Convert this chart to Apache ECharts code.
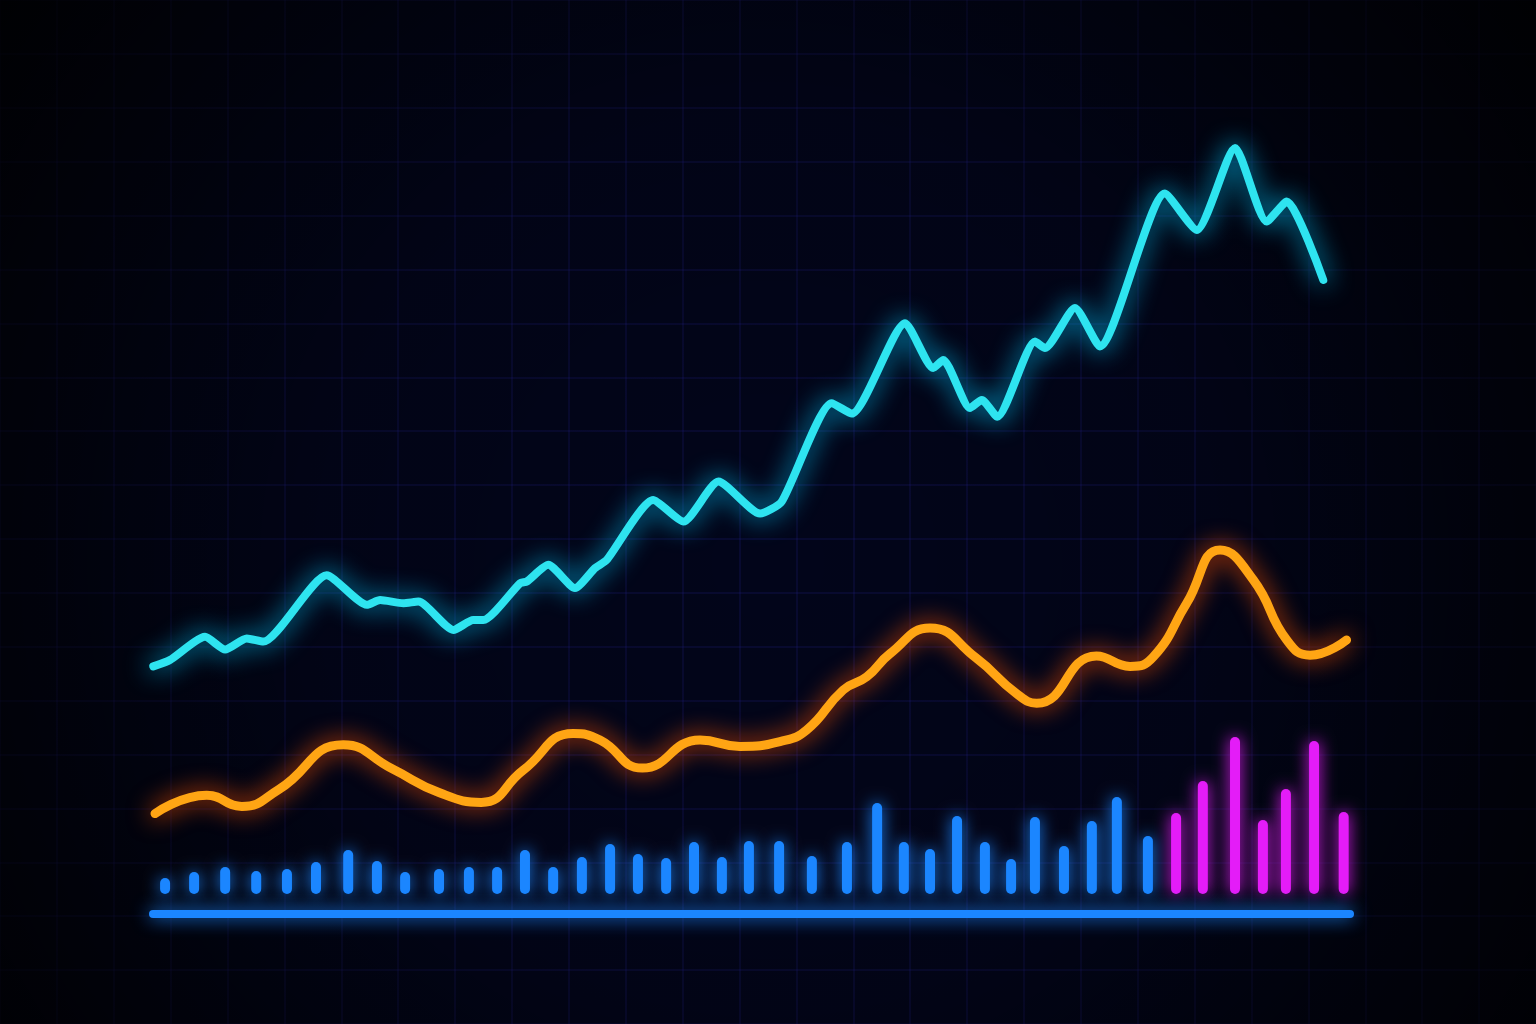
<!DOCTYPE html>
<html><head><meta charset="utf-8">
<script src="https://cdn.jsdelivr.net/npm/echarts@6.0.0/dist/echarts.min.js"></script>
<style>html,body{margin:0;padding:0;background:#000;}#c{width:1536px;height:1024px;}</style>
</head><body><div id="c"></div>
<script>
// Cyan (upper) series: x = time step, y = value
const cyanX = [-0.41,0.17,1.39,2.09,2.84,3.42,5.62,7.02,7.48,8.29,8.81,10.03,10.72,11.07,12.35,12.58,13.33,14.26,14.96,15.36,16.98,18.03,19.25,20.70,21.45,23.19,23.89,25.74,26.72,27.07,28.0,28.41,28.95,30.26,30.61,31.65,32.52,34.78,35.89,37.22,38.32,39.02,40.29];
const cyanY = [29.2,30.0,32.9,31.3,32.7,32.3,40.6,36.9,37.5,37.1,37.3,33.75,35.0,35.0,39.6,39.8,41.9,39.0,41.5,42.5,50.0,47.3,52.3,48.3,49.8,62.1,60.8,72.1,66.5,67.5,61.5,62.5,60.4,69.8,69.0,74.0,69.2,88.3,83.75,94.0,84.8,87.3,77.5];
// Orange (lower) series
const orangeX = [-0.35,1.45,2.67,3.95,6.20,7.9,9.55,11.0,12.45,14.20,15.13,16.6,18.61,20.0,21.39,22.32,23.59,24.41,25.22,26.61,28.2,29.62,30.32,32.4,33.57,34.38,35.54,36.70,37.86,39.02,39.83,41.10];
const orangeY = [10.8,13.1,11.7,13.8,19.4,16.4,13.4,12.2,16.2,20.8,20.0,16.5,20.0,19.2,19.8,21.25,26.25,27.9,30.8,34.0,30.3,25.8,24.6,30.5,29.2,30.4,37.1,43.75,40.0,32.5,30.6,32.5];
// Volume bars
const barX = [0,1.01,2.09,3.17,4.24,5.25,6.37,7.37,8.35,9.53,10.57,11.55,12.52,13.50,14.50,15.48,16.45,17.43,18.40,19.37,20.31,21.36,22.50,23.72,24.77,25.70,26.61,27.55,28.52,29.43,30.26,31.27,32.24,33.11,34.19,35.17,36.10,37.22,38.19,38.99,39.97,41.0];
const barV = [8,11,13.5,11.5,12.5,16,22,16.5,11,12.5,13.5,13.5,22,13.5,18.5,25,20,18,26,18.5,26.5,26.5,19,26,45.5,26,22.5,39,26,17.5,38.5,24,36.5,48.5,29,40.5,56.5,78.5,37,52.5,76.5,41];
const highlightFrom = 35; // bars from this index drawn in magenta

const CYAN = '#2ee4f0', ORANGE = '#ffa514', BLUE = '#1b86ff', MAGENTA = '#e41cf8';
// bar panel spans the baseline; line panel spans the full width (same scale) so glows are not cut
const X_MIN = -0.42, X_MAX = 41.22;
const LX_MIN = -5.742, LX_MAX = 47.69;

const chart = echarts.init(document.getElementById('c'), null, {renderer: 'canvas'});
const zip = (a, b) => a.map((v, i) => [v, b[i]]);
const barData = barX.map((x, i) => {
  const c = i >= highlightFrom ? MAGENTA : BLUE;
  return {value: [x, barV[i]], itemStyle: {color: c, shadowColor: c}};
});
const hidden = {axisLabel: {show: false}, axisTick: {show: false}, axisLine: {show: false}, splitLine: {show: false}};
const gridLine = {show: true, lineStyle: {color: 'rgba(50,44,175,0.2)', width: 1.5}};

chart.setOption({
  animation: false,
  backgroundColor: '#02051a',
  graphic: [{
    type: 'rect', silent: true, z: 1,
    shape: {x: 0, y: 0, width: 1536, height: 1024},
    style: {fill: new echarts.graphic.RadialGradient(0.5, 0.55, 0.95, [
      {offset: 0, color: 'rgba(0,0,0,0)'},
      {offset: 0.45, color: 'rgba(0,0,0,0.15)'},
      {offset: 1, color: 'rgba(0,0,0,0.92)'}
    ])}
  }],
  grid: [
    {left: 0, right: 0, top: 100, bottom: 124},
    {left: 153, right: 186, top: 694, bottom: 110},
    {left: -6.04, top: -6.3, width: 61.04 * 27, height: 59.3 * 19}
  ],
  xAxis: [
    Object.assign({type: 'value', gridIndex: 0, min: LX_MIN, max: LX_MAX}, hidden),
    Object.assign({type: 'value', gridIndex: 1, min: X_MIN, max: X_MAX, z: 4}, hidden, {
      axisLine: {show: true, onZero: false, lineStyle: {color: BLUE, width: 8, cap: 'round', shadowBlur: 18, shadowColor: BLUE}}
    }),
    Object.assign({type: 'value', gridIndex: 2, min: 0, max: 27, interval: 1}, hidden, {splitLine: gridLine})
  ],
  yAxis: [
    Object.assign({type: 'value', gridIndex: 0, min: 0, max: 100}, hidden),
    Object.assign({type: 'value', gridIndex: 1, min: -10, max: 100}, hidden),
    Object.assign({type: 'value', gridIndex: 2, min: 0, max: 19, interval: 1, inverse: true}, hidden, {splitLine: gridLine})
  ],
  series: [
    {
      type: 'bar', xAxisIndex: 1, yAxisIndex: 1, z: 3, barWidth: 10, clip: false,
      data: barData,
      itemStyle: {borderRadius: 5, shadowBlur: 16}
    },
    {
      type: 'line', xAxisIndex: 0, yAxisIndex: 0, z: 4, clip: false,
      data: zip(orangeX, orangeY), showSymbol: false, smooth: 0.5,
      lineStyle: {color: ORANGE, width: 9, cap: 'round', join: 'round', shadowBlur: 24, shadowColor: '#ff5200'}
    },
    {
      type: 'line', xAxisIndex: 0, yAxisIndex: 0, z: 5, clip: false,
      data: zip(cyanX, cyanY), showSymbol: false, smooth: 0.2,
      lineStyle: {color: CYAN, width: 8, cap: 'round', join: 'round', shadowBlur: 26, shadowColor: '#00c8ff'}
    }
  ]
});
</script></body></html>
